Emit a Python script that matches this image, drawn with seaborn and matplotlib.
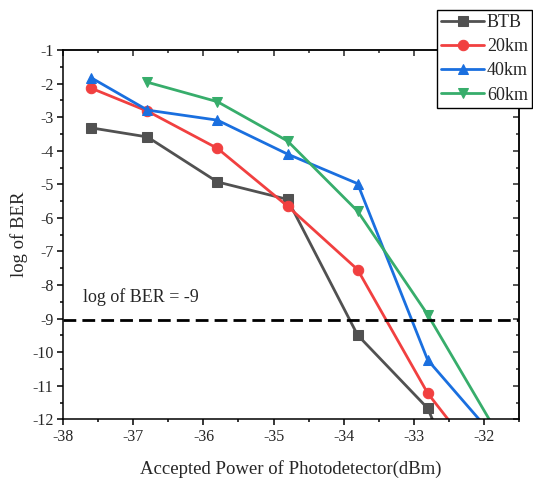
import matplotlib
matplotlib.use("Agg")
import matplotlib.pyplot as plt
from matplotlib.ticker import MultipleLocator, FuncFormatter
import pandas as pd
import seaborn as sns

# received optical power (dBm); the last point lies below the plotted range
power = [-37.6, -36.8, -35.8, -34.8, -33.8, -32.8, -31.8]
power_60 = [-36.8, -35.8, -34.8, -33.8, -32.8, -31.8]

ber_btb = [-3.32, -3.59, -4.93, -5.45, -9.49, -11.67, -16.5]
ber_20km = [-2.14, -2.82, -3.93, -5.65, -7.54, -11.22, -13.9]
ber_40km = [-1.83, -2.79, -3.09, -4.10, -4.98, -10.23, -12.64]
ber_60km = [-1.96, -2.54, -3.71, -5.80, -8.88, -12.43]

series = ["BTB", "20km", "40km", "60km"]
colors = ["#515151", "#F14040", "#1A6FDF", "#37AD6B"]
markers = ["s", "o", "^", "v"]

threshold = -9.05
threshold_label = "log of BER = -9"
xlabel = "Accepted Power of Photodetector(dBm)"
ylabel = "log of BER"

frames = []
for name, xs, ys in [("BTB", power, ber_btb), ("20km", power, ber_20km),
                     ("40km", power, ber_40km), ("60km", power_60, ber_60km)]:
    frames.append(pd.DataFrame({"power": xs, "ber": ys, "link": name}))
df = pd.concat(frames, ignore_index=True)

sns.set_style("ticks")
plt.rcParams["font.family"] = ["Liberation Serif", "DejaVu Serif"]

fig = plt.figure(figsize=(5.33, 4.78), dpi=100)
ax = fig.add_axes([0.1188, 0.1228, 0.9732 - 0.1188, 0.8954 - 0.1228])

sns.lineplot(data=df, x="power", y="ber", hue="link", style="link",
             hue_order=series, style_order=series,
             palette=dict(zip(series, colors)),
             markers=dict(zip(series, markers)), dashes=False,
             sort=False, linewidth=2.0, markersize=7.5, legend=False, ax=ax)

handles = list(ax.lines)
for ln, c, name in zip(handles, colors, series):
    ln.set_markeredgecolor(c)
    ln.set_markerfacecolor(c)
    ln.set_label(name)

ax.axhline(threshold, color="black", linewidth=2.0, dashes=(4.6, 2.2))
ax.text(-37.72, -8.36, threshold_label, fontsize=13, va="center", ha="left")

ax.set_xlim(-38, -31.5)
ax.set_ylim(-12, -1)
ax.xaxis.set_major_locator(MultipleLocator(1))
ax.xaxis.set_minor_locator(MultipleLocator(0.5))
ax.yaxis.set_major_locator(MultipleLocator(1))
ax.yaxis.set_minor_locator(MultipleLocator(0.5))
ax.xaxis.set_major_formatter(FuncFormatter(lambda v, p: f"{v:.0f}"))
ax.yaxis.set_major_formatter(FuncFormatter(lambda v, p: f"{v:.0f}"))

for sp in ax.spines.values():
    sp.set_visible(True)
    sp.set_linewidth(1.1)
    sp.set_color("black")

ax.tick_params(which="both", direction="out", color="black", width=1.1,
               labelsize=11.5, pad=3)
ax.tick_params(which="major", length=4)
ax.tick_params(which="minor", length=2.5)

# mirrored inward ticks on the top and right edges
top = ax.secondary_xaxis("top")
top.xaxis.set_major_locator(MultipleLocator(1))
top.xaxis.set_minor_locator(MultipleLocator(0.5))
top.tick_params(which="both", direction="in", width=1.1, labeltop=False)
top.tick_params(which="major", length=4)
top.tick_params(which="minor", length=2.5)
top.spines["top"].set_linewidth(1.1)
right = ax.secondary_yaxis("right")
right.yaxis.set_major_locator(MultipleLocator(1))
right.yaxis.set_minor_locator(MultipleLocator(0.5))
right.tick_params(which="both", direction="in", width=1.1, labelright=False)
right.tick_params(which="major", length=4)
right.tick_params(which="minor", length=2.5)
right.spines["right"].set_linewidth(1.1)

ax.set_xlabel(xlabel, fontsize=13.5, labelpad=11)
ax.set_ylabel(ylabel, fontsize=13.5, labelpad=3)

leg = fig.legend(handles=handles, labels=series, loc="upper right",
                 bbox_to_anchor=(0.998, 0.979), bbox_transform=fig.transFigure,
                 fontsize=13, frameon=True, fancybox=False, shadow=False,
                 handlelength=2.4, handletextpad=0.15, borderpad=0.22,
                 labelspacing=0.4, borderaxespad=0.0, numpoints=1)
leg.get_frame().set_edgecolor("black")
leg.get_frame().set_linewidth(1.0)
leg.get_frame().set_alpha(1.0)

fig.savefig("out.png", dpi=100)
